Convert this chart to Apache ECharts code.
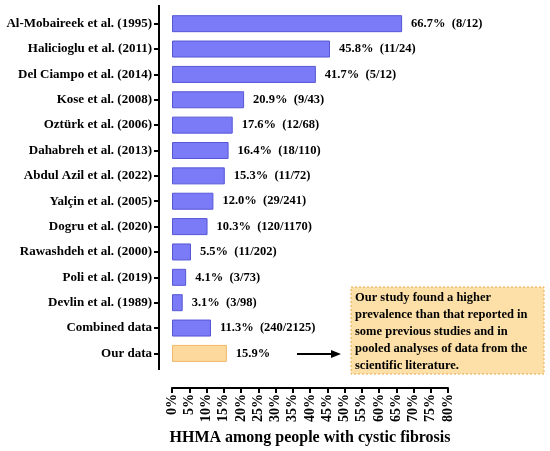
<!DOCTYPE html>
<html>
<head>
<meta charset="utf-8">
<script src="https://cdn.jsdelivr.net/npm/echarts@6/dist/echarts.min.js"></script>
<style>html,body{margin:0;padding:0;background:#fff}#c{width:550px;height:451px}</style>
</head>
<body>
<div id="c"></div>
<script>
var categories = ["Al-Mobaireek et al. (1995)","Halicioglu et al. (2011)","Del Ciampo et al. (2014)","Kose et al. (2008)","Oztürk et al. (2006)","Dahabreh et al. (2013)","Abdul Azil et al. (2022)","Yalçin et al. (2005)","Dogru et al. (2020)","Rawashdeh et al. (2000)","Poli et al. (2019)","Devlin et al. (1989)","Combined data","Our data"];
var values = [66.7,45.8,41.7,20.9,17.6,16.4,15.3,12.0,10.3,5.5,4.1,3.1,11.3,15.9];
var counts = ["(8/12)","(11/24)","(5/12)","(9/43)","(12/68)","(18/110)","(11/72)","(29/241)","(120/1170)","(11/202)","(3/73)","(3/98)","(240/2125)",""];
var note = ["Our study found a higher","prevalence than that reported in","some previous studies and in","pooled analyses of data from the","scientific literature."];
var xTicks = [0,5,10,15,20,25,30,35,40,45,50,55,60,65,70,75,80];

var FONT = "Liberation Serif";
var chart = echarts.init(document.getElementById('c'));
var data = values.map(function(v,i){
  var ours = categories[i] === "Our data";
  return {value:v, itemStyle: ours ? {color:'#fdd99e', borderColor:'#f2b96a', borderWidth:1} : {color:'#7b7bf7', borderColor:'#5656d6', borderWidth:1}};
});
chart.setOption({
  animation:false,
  grid:{left:172, width:276, top:11, height:356},
  xAxis:{type:'value', min:xTicks[0], max:xTicks[xTicks.length-1], interval:5, offset:22,
    axisLine:{show:true, onZero:false, lineStyle:{color:'#000', width:2}},
    axisTick:{show:true, length:5, lineStyle:{color:'#000', width:2}},
    splitLine:{show:false},
    axisLabel:{rotate:90, fontFamily:FONT, fontWeight:'bold', fontSize:14, color:'#000', margin:6, formatter:'{value}%'},
    name:'HHMA among people with cystic fibrosis', nameLocation:'middle', nameGap:40,
    nameTextStyle:{fontFamily:FONT, fontWeight:'bold', fontSize:16, color:'#000'}
  },
  yAxis:{type:'category', data:categories, inverse:true, offset:13,
    axisLine:{show:true, onZero:false, lineStyle:{color:'#000', width:2}},
    axisTick:{show:true, length:5, alignWithLabel:true, lineStyle:{color:'#000', width:2}},
    axisLabel:{fontFamily:FONT, fontWeight:'bold', fontSize:13, color:'#000', margin:7}
  },
  series:[{type:'bar', data:data, barWidth:17,
    label:{show:true, position:'right', distance:9, fontFamily:FONT, fontWeight:'bold', fontSize:12.5, color:'#000',
      formatter:function(p){ return p.value.toFixed(1)+'%' + (counts[p.dataIndex] ? '  '+counts[p.dataIndex] : ''); }}
  }],
  graphic:[
    {type:'line', shape:{x1:159, y1:5, x2:159, y2:370}, style:{stroke:'#000', lineWidth:2}},
    {type:'rect', shape:{x:351, y:287, width:193, height:87}, style:{fill:'#fde0a8', stroke:'#e8a850', lineWidth:1, lineDash:[2,2]}},
    {type:'text', x:355, y:289, style:{text:note.join('\n'), font:'bold 12.5px "Liberation Serif"', fill:'#000', lineHeight:17}},
    {type:'line', shape:{x1:297, y1:354, x2:333, y2:354}, style:{stroke:'#000', lineWidth:2}},
    {type:'polygon', shape:{points:[[331,350],[341,354],[331,358]]}, style:{fill:'#000'}}
  ]
});
</script>
</body>
</html>
